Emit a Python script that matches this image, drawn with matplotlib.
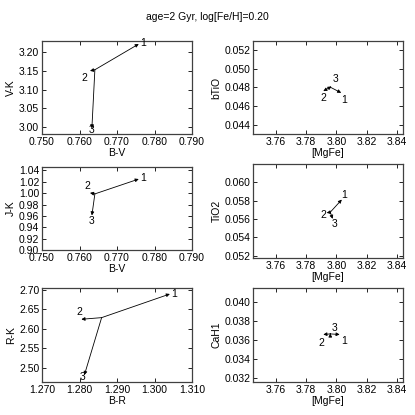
import matplotlib
matplotlib.use("Agg")
import matplotlib.pyplot as plt
import numpy as np

plt.rcParams['font.family'] = ['Liberation Sans', 'DejaVu Sans']
FS = 7.5
plt.rcParams['font.size'] = FS

title = "age=2 Gyr, log[Fe/H]=0.20"
labels = ["1", "2", "3"]

# colour indices
bv_origin = 0.7641
bv_ends = [0.7758, 0.7628, 0.7633]
vk_origin = 3.153
vk_ends = [3.222, 3.150, 2.996]
jk_origin = 0.9987
jk_ends = [1.0248, 1.0005, 0.9608]
br_origin = 1.2859
br_ends = [1.3041, 1.2805, 1.2813]
rk_origin = 2.6287
rk_ends = [2.6896, 2.6245, 2.481]

# indices
mgfe_origin = 3.7960
mgfe_ends = [3.8032, 3.7914, 3.7968]
mgfe_ends_tio2 = [3.8036, 3.7936, 3.7976]
mgfe_ends_cah = [3.8022, 3.7914, 3.7960]
btio_origin = 0.04802
btio_ends = [0.04742, 0.04760, 0.04810]
tio2_origin = 0.05673
tio2_ends = [0.05810, 0.05666, 0.05601]
cah1_origin = 0.03668
cah1_ends = [0.03662, 0.03662, 0.03673]

W = 415.0
def rect(x0, y0, x1, y1):
    return [x0 / W, 1 - y1 / W, (x1 - x0) / W, (y1 - y0) / W]

panels = [
    dict(pos=rect(42, 41, 192, 134), x0=bv_origin, y0=vk_origin, xs=bv_ends, ys=vk_ends,
         xlim=(0.75, 0.79), ylim=(2.981, 3.23), xticks=np.arange(0.75, 0.7901, 0.01), xfmt="%.3f",
         yticks=np.arange(3.0, 3.201, 0.05), yfmt="%.2f", xlabel="B-V", ylabel="V-K",
         offs=[(3, 1), (-4, -5), (0, -1)]),
    dict(pos=rect(42, 167, 192, 250), x0=bv_origin, y0=jk_origin, xs=bv_ends, ys=jk_ends,
         xlim=(0.75, 0.79), ylim=(0.90, 1.046), xticks=np.arange(0.75, 0.7901, 0.01), xfmt="%.3f",
         yticks=np.arange(0.90, 1.0401, 0.02), yfmt="%.2f", xlabel="B-V", ylabel="J-K",
         offs=[(3, 1), (-2, 5), (0, -4)]),
    dict(pos=rect(42, 288, 192, 382), x0=br_origin, y0=rk_origin, xs=br_ends, ys=rk_ends,
         xlim=(1.27, 1.31), ylim=(2.463, 2.705), xticks=np.arange(1.27, 1.3101, 0.01), xfmt="%.3f",
         yticks=np.arange(2.50, 2.701, 0.05), yfmt="%.2f", xlabel="B-R", ylabel="R-K",
         offs=[(3, 0), (-1.5, 5), (-1.5, -1.5)]),
    dict(pos=rect(253, 41, 403, 134), x0=mgfe_origin, y0=btio_origin, xs=mgfe_ends, ys=btio_ends,
         xlim=(3.745, 3.844), ylim=(0.04303, 0.05294), xticks=np.arange(3.76, 3.8401, 0.02), xfmt="%.2f",
         yticks=np.arange(0.044, 0.05201, 0.002), yfmt="%.3f", xlabel="[MgFe]", ylabel="bTiO",
         offs=[(2, -5), (0, -5), (3, 5.5)]),
    dict(pos=rect(253, 164, 403, 258), x0=mgfe_origin, y0=tio2_origin, xs=mgfe_ends_tio2, ys=tio2_ends,
         xlim=(3.745, 3.844), ylim=(0.05175, 0.06197), xticks=np.arange(3.76, 3.8401, 0.02), xfmt="%.2f",
         yticks=np.arange(0.052, 0.06001, 0.002), yfmt="%.3f", xlabel="[MgFe]", ylabel="TiO2",
         offs=[(1.5, 3.5), (-2.5, -1.5), (1.5, -4)]),
    dict(pos=rect(253, 288, 403, 382), x0=mgfe_origin, y0=cah1_origin, xs=mgfe_ends_cah, ys=cah1_ends,
         xlim=(3.745, 3.844), ylim=(0.0316, 0.04153), xticks=np.arange(3.76, 3.8401, 0.02), xfmt="%.2f",
         yticks=np.arange(0.032, 0.04001, 0.002), yfmt="%.3f", xlabel="[MgFe]", ylabel="CaH1",
         offs=[(3, -5), (-1.5, -6), (3, 4)]),
]

fig = plt.figure(figsize=(4.15, 4.15), dpi=100)
fig.text(0.5, 1 - 17 / W, title, ha='center', va='center', fontsize=FS)

for p in panels:
    ax = fig.add_axes(p['pos'])
    ax.set_xlim(*p['xlim'])
    ax.set_ylim(*p['ylim'])
    ax.set_xticks(p['xticks'])
    ax.set_yticks(p['yticks'])
    ax.set_xticklabels([p['xfmt'] % v for v in p['xticks']])
    ax.set_yticklabels([p['yfmt'] % v for v in p['yticks']])
    ax.tick_params(direction='in', length=3, width=0.6, top=True, right=True, pad=2,
                   labelsize=FS, colors='black')
    for s in ax.spines.values():
        s.set_linewidth(0.9)
        s.set_color('#404040')
    ax.set_xlabel(p['xlabel'], labelpad=1)
    ax.set_ylabel(p['ylabel'], labelpad=2)
    for lab, xe, ye, off in zip(labels, p['xs'], p['ys'], p['offs']):
        ax.annotate("", xy=(xe, ye), xytext=(p['x0'], p['y0']),
                    arrowprops=dict(arrowstyle='-|>', lw=0.6, color='black',
                                    mutation_scale=5, shrinkA=0, shrinkB=0))
        ax.annotate(lab, xy=(xe, ye), xytext=off, textcoords='offset points',
                    ha='center', va='center', fontsize=FS)

fig.savefig("out.png", dpi=100)
